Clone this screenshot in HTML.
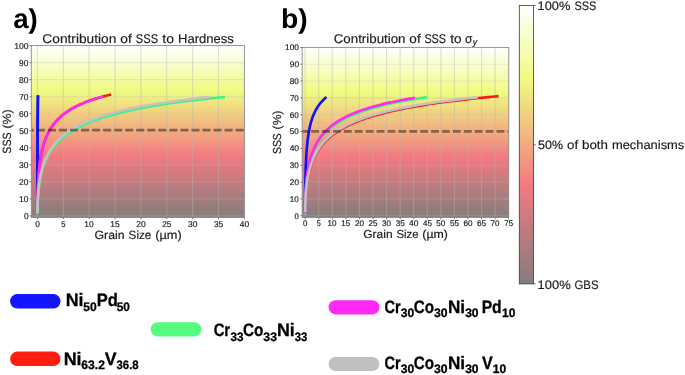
<!DOCTYPE html>
<html><head><meta charset="utf-8"><title>SSS contribution</title>
<style>html,body{margin:0;padding:0;background:#fff;}body{width:685px;height:375px;overflow:hidden;font-family:"Liberation Sans",sans-serif;}svg{display:block;font-family:"Liberation Sans",sans-serif;will-change:opacity;text-rendering:geometricPrecision;}text{fill:#1c1c1c;stroke:#1c1c1c;stroke-width:0.18px;}.pl text{fill:#000;stroke:none;}.lg text{fill:#000;stroke:#000;stroke-width:0.3px;stroke-linejoin:round;}</style>
</head><body>
<svg width="685" height="375" viewBox="0 0 685 375">
<defs>
<linearGradient id="cm" x1="0" y1="1" x2="0" y2="0">
<stop offset="0" stop-color="#847d7d"/>
<stop offset="0.36" stop-color="#f37a81"/>
<stop offset="0.735" stop-color="#effb80"/>
<stop offset="1" stop-color="#ffffff"/>
</linearGradient>
</defs>
<g>
<rect x="31.30" y="45.60" width="213.10" height="171.85" fill="url(#cm)"/>
<path d="M37.45 45.60V217.45M63.31 45.60V217.45M89.16 45.60V217.45M115.02 45.60V217.45M140.88 45.60V217.45M166.73 45.60V217.45M192.59 45.60V217.45M218.44 45.60V217.45" stroke="#b4b4b4" stroke-opacity="0.42" stroke-width="1.1" fill="none"/>
<path d="M31.30 215.90H244.40M31.30 198.87H244.40M31.30 181.84H244.40M31.30 164.81H244.40M31.30 147.78H244.40M31.30 130.75H244.40M31.30 113.72H244.40M31.30 96.69H244.40M31.30 79.66H244.40M31.30 62.63H244.40" stroke="#b8b8b8" stroke-opacity="0.30" stroke-width="1.1" fill="none"/>
<clipPath id="clip1"><rect x="31.30" y="45.60" width="213.10" height="171.85"/></clipPath>
<g clip-path="url(#clip1)" fill="none" stroke-linecap="square" stroke-linejoin="round">
<path d="M37.45 210.79L37.45 210.78L37.45 210.73L37.45 210.66L37.45 210.56L37.45 210.43L37.45 210.27L37.45 210.09L37.45 209.87L37.45 209.63L37.45 209.36L37.45 209.06L37.45 208.74L37.45 208.39L37.45 208.01L37.45 207.61L37.45 207.18L37.45 206.72L37.45 206.24L37.45 205.74L37.45 205.21L37.45 204.66L37.45 204.09L37.45 203.49L37.45 202.88L37.45 202.24L37.45 201.58L37.45 200.90L37.45 200.20L37.45 199.48L37.45 198.75L37.45 198.00L37.45 197.23L37.45 196.44L37.45 195.64L37.45 194.82L37.45 193.99L37.45 193.14L37.45 192.29L37.45 191.42L37.45 190.53L37.45 189.64L37.45 188.73L37.45 187.82L37.45 186.89L37.45 185.96L37.45 185.02L37.45 184.07L37.46 183.11L37.46 182.15L37.46 181.18L37.46 180.20L37.46 179.23L37.46 178.24L37.46 177.25L37.46 176.26L37.46 175.27L37.46 174.27L37.46 173.27L37.46 172.27L37.46 171.27L37.46 170.27L37.46 169.26L37.46 168.26L37.47 167.26L37.47 166.26L37.47 165.26L37.47 164.26L37.47 163.26L37.47 162.27L37.47 161.27L37.47 160.28L37.47 159.30L37.47 158.32L37.48 157.34L37.48 156.36L37.48 155.39L37.48 154.42L37.48 153.46L37.48 152.50L37.48 151.55L37.49 150.60L37.49 149.66L37.49 148.73L37.49 147.80L37.49 146.87L37.50 145.95L37.50 145.04L37.50 144.13L37.50 143.23L37.50 142.34L37.51 141.45L37.51 140.57L37.51 139.69L37.51 138.83L37.52 137.97L37.52 137.11L37.52 136.27L37.53 135.43L37.53 134.59L37.53 133.77L37.53 132.95L37.54 132.14L37.54 131.33L37.55 130.54L37.55 129.75L37.55 128.96L37.56 128.19L37.56 127.42L37.56 126.66L37.57 125.90L37.57 125.16L37.58 124.42L37.58 123.69L37.59 122.96L37.59 122.24L37.60 121.53L37.60 120.83L37.61 120.13L37.61 119.44L37.62 118.76L37.62 118.08L37.63 117.41L37.63 116.75L37.64 116.10L37.64 115.45L37.65 114.81L37.66 114.17L37.66 113.54L37.67 112.92L37.68 112.31L37.68 111.70L37.69 111.09L37.70 110.50L37.71 109.91L37.71 109.33L37.72 108.75L37.73 108.18L37.74 107.62L37.75 107.06L37.75 106.50L37.76 105.96L37.77 105.42L37.78 104.88L37.79 104.35L37.80 103.83L37.81 103.31L37.82 102.80L37.83 102.30L37.84 101.80L37.85 101.30L37.86 100.81L37.87 100.33L37.88 99.85L37.89 99.38L37.90 98.91L37.92 98.44L37.93 97.99L37.94 97.53L37.95 97.08L37.96 96.64" stroke="#1212f8" stroke-width="3.00"/>
<path d="M37.47 209.94L37.47 209.92L37.47 209.88L37.47 209.80L37.47 209.70L37.47 209.56L37.47 209.40L37.47 209.21L37.47 208.98L37.47 208.73L37.48 208.45L37.48 208.14L37.48 207.80L37.48 207.44L37.49 207.05L37.49 206.63L37.49 206.18L37.50 205.71L37.50 205.21L37.51 204.69L37.52 204.14L37.52 203.57L37.53 202.98L37.54 202.36L37.55 201.72L37.56 201.06L37.57 200.37L37.58 199.67L37.60 198.95L37.61 198.21L37.63 197.45L37.64 196.67L37.66 195.87L37.68 195.06L37.70 194.23L37.73 193.39L37.75 192.53L37.78 191.66L37.81 190.77L37.84 189.88L37.87 188.97L37.91 188.05L37.94 187.12L37.98 186.18L38.03 185.23L38.07 184.27L38.12 183.30L38.17 182.33L38.22 181.35L38.28 180.36L38.34 179.37L38.40 178.37L38.47 177.37L38.54 176.36L38.62 175.35L38.70 174.34L38.78 173.32L38.86 172.30L38.96 171.28L39.05 170.27L39.15 169.24L39.26 168.22L39.37 167.20L39.48 166.18L39.60 165.17L39.73 164.15L39.86 163.13L40.00 162.12L40.14 161.11L40.29 160.10L40.44 159.10L40.60 158.09L40.77 157.10L40.95 156.10L41.13 155.11L41.32 154.13L41.52 153.15L41.72 152.17L41.93 151.20L42.16 150.24L42.38 149.28L42.62 148.32L42.87 147.37L43.12 146.43L43.38 145.50L43.66 144.57L43.94 143.64L44.23 142.73L44.53 141.82L44.84 140.92L45.17 140.02L45.50 139.13L45.84 138.25L46.20 137.37L46.56 136.50L46.94 135.64L47.33 134.79L47.73 133.94L48.15 133.11L48.57 132.27L49.01 131.45L49.46 130.63L49.93 129.83L50.41 129.02L50.90 128.23L51.41 127.44L51.93 126.67L52.46 125.89L53.01 125.13L53.58 124.37L54.16 123.63L54.76 122.88L55.37 122.15L56.00 121.42L56.64 120.70L57.31 119.99L57.99 119.29L58.68 118.59L59.40 117.90L60.13 117.22L60.89 116.54L61.66 115.87L62.44 115.21L63.25 114.56L64.08 113.91L64.93 113.27L65.80 112.64L66.69 112.01L67.60 111.39L68.53 110.78L69.48 110.17L70.46 109.57L71.45 108.98L72.47 108.39L73.52 107.81L74.58 107.24L75.67 106.67L76.78 106.11L77.92 105.55L79.08 105.01L80.27 104.46L81.48 103.93L82.72 103.40L83.99 102.87L85.28 102.35L86.60 101.84L87.94 101.33L89.31 100.83L90.72 100.33L92.14 99.84L93.60 99.36L95.09 98.88L96.61 98.40L98.15 97.93L99.73 97.47L101.34 97.01L102.97 96.56L104.64 96.11L106.35 95.67L108.08 95.23L109.85 94.80" stroke="#fb1a12" stroke-width="2.65"/>
<path d="M37.47 209.94L37.47 209.93L37.47 209.88L37.47 209.81L37.47 209.71L37.47 209.59L37.47 209.43L37.47 209.25L37.47 209.04L37.47 208.80L37.47 208.53L37.48 208.24L37.48 207.92L37.48 207.58L37.48 207.21L37.49 206.81L37.49 206.39L37.50 205.94L37.50 205.47L37.51 204.97L37.51 204.46L37.52 203.91L37.53 203.35L37.53 202.76L37.54 202.16L37.55 201.53L37.56 200.88L37.57 200.21L37.59 199.52L37.60 198.82L37.61 198.09L37.63 197.35L37.65 196.59L37.66 195.82L37.68 195.03L37.70 194.22L37.73 193.41L37.75 192.57L37.78 191.73L37.80 190.87L37.83 190.00L37.87 189.12L37.90 188.22L37.94 187.32L37.97 186.41L38.01 185.49L38.06 184.56L38.10 183.62L38.15 182.68L38.20 181.73L38.26 180.77L38.31 179.81L38.37 178.84L38.44 177.87L38.50 176.89L38.57 175.91L38.65 174.93L38.73 173.95L38.81 172.96L38.89 171.97L38.98 170.98L39.08 169.99L39.18 169.00L39.28 168.01L39.39 167.01L39.50 166.02L39.62 165.03L39.74 164.05L39.87 163.06L40.00 162.08L40.14 161.09L40.29 160.11L40.44 159.14L40.59 158.16L40.76 157.19L40.93 156.23L41.10 155.27L41.29 154.31L41.48 153.35L41.67 152.41L41.88 151.46L42.09 150.52L42.31 149.59L42.54 148.66L42.77 147.74L43.02 146.82L43.27 145.91L43.53 145.00L43.80 144.10L44.08 143.21L44.36 142.32L44.66 141.44L44.97 140.56L45.29 139.70L45.61 138.83L45.95 137.98L46.30 137.13L46.66 136.29L47.03 135.45L47.41 134.63L47.80 133.81L48.20 132.99L48.62 132.19L49.05 131.39L49.49 130.59L49.94 129.81L50.40 129.03L50.88 128.26L51.37 127.49L51.88 126.74L52.40 125.99L52.93 125.24L53.48 124.51L54.04 123.78L54.62 123.06L55.21 122.34L55.82 121.63L56.44 120.93L57.08 120.24L57.73 119.55L58.40 118.87L59.09 118.20L59.79 117.53L60.52 116.87L61.26 116.22L62.01 115.57L62.79 114.93L63.58 114.30L64.39 113.67L65.22 113.05L66.07 112.44L66.94 111.83L67.83 111.23L68.74 110.64L69.67 110.05L70.63 109.47L71.60 108.89L72.59 108.33L73.61 107.76L74.64 107.20L75.70 106.65L76.79 106.11L77.89 105.57L79.02 105.04L80.17 104.51L81.35 103.99L82.55 103.47L83.77 102.96L85.02 102.45L86.30 101.95L87.60 101.46L88.92 100.97L90.28 100.49L91.66 100.01L93.06 99.54L94.50 99.07L95.96 98.60L97.45 98.15L98.97 97.69L100.51 97.25L102.09 96.80" stroke="#ff28f2" stroke-width="2.65"/>
<path d="M37.47 211.98L37.47 211.97L37.47 211.93L37.47 211.85L37.47 211.75L37.47 211.62L37.48 211.46L37.48 211.28L37.48 211.06L37.48 210.82L37.49 210.55L37.49 210.25L37.50 209.92L37.50 209.57L37.51 209.19L37.52 208.78L37.53 208.35L37.54 207.89L37.55 207.41L37.56 206.91L37.57 206.38L37.59 205.82L37.61 205.25L37.62 204.65L37.65 204.03L37.67 203.39L37.70 202.72L37.72 202.04L37.76 201.34L37.79 200.62L37.83 199.88L37.87 199.12L37.91 198.35L37.96 197.56L38.01 196.75L38.07 195.93L38.13 195.09L38.19 194.24L38.26 193.38L38.34 192.51L38.42 191.62L38.50 190.72L38.59 189.81L38.69 188.89L38.80 187.96L38.91 187.02L39.03 186.07L39.15 185.12L39.29 184.15L39.43 183.19L39.58 182.21L39.73 181.23L39.90 180.25L40.08 179.26L40.26 178.26L40.46 177.26L40.67 176.26L40.88 175.26L41.11 174.26L41.35 173.25L41.60 172.24L41.87 171.23L42.15 170.22L42.44 169.21L42.74 168.21L43.06 167.20L43.39 166.19L43.74 165.19L44.10 164.18L44.48 163.18L44.87 162.18L45.28 161.19L45.71 160.20L46.16 159.21L46.62 158.22L47.10 157.24L47.60 156.26L48.12 155.29L48.66 154.32L49.23 153.36L49.81 152.40L50.41 151.45L51.04 150.50L51.69 149.55L52.36 148.62L53.06 147.69L53.78 146.76L54.52 145.84L55.30 144.93L56.09 144.02L56.92 143.12L57.77 142.23L58.65 141.34L59.56 140.46L60.50 139.59L61.46 138.72L62.46 137.86L63.49 137.01L64.55 136.16L65.64 135.32L66.77 134.49L67.93 133.67L69.12 132.85L70.35 132.04L71.61 131.24L72.92 130.44L74.25 129.65L75.63 128.87L77.04 128.10L78.50 127.33L79.99 126.57L81.53 125.82L83.10 125.08L84.72 124.34L86.38 123.61L88.09 122.88L89.84 122.17L91.63 121.46L93.47 120.76L95.36 120.06L97.29 119.37L99.28 118.69L101.31 118.02L103.39 117.35L105.52 116.69L107.71 116.04L109.95 115.39L112.24 114.75L114.58 114.12L116.98 113.49L119.44 112.87L121.95 112.26L124.52 111.65L127.15 111.05L129.83 110.46L132.58 109.87L135.39 109.29L138.26 108.72L141.20 108.15L144.20 107.58L147.26 107.03L150.39 106.48L153.58 105.93L156.85 105.39L160.18 104.86L163.58 104.33L167.05 103.81L170.59 103.30L174.21 102.79L177.90 102.28L181.66 101.78L185.50 101.29L189.42 100.80L193.41 100.32L197.48 99.84L201.63 99.37L205.86 98.90L210.18 98.44L214.57 97.98L219.05 97.53L223.62 97.09" stroke="#3af57c" stroke-width="2.65"/>
<path d="M37.47 212.15L37.47 212.14L37.47 212.10L37.47 212.02L37.47 211.92L37.47 211.79L37.47 211.63L37.47 211.45L37.48 211.23L37.48 210.99L37.48 210.72L37.49 210.42L37.49 210.09L37.50 209.74L37.50 209.36L37.51 208.96L37.52 208.53L37.53 208.07L37.54 207.59L37.55 207.09L37.56 206.56L37.57 206.00L37.59 205.43L37.61 204.83L37.63 204.21L37.65 203.57L37.67 202.91L37.70 202.23L37.72 201.53L37.76 200.81L37.79 200.07L37.83 199.31L37.87 198.54L37.91 197.75L37.96 196.95L38.01 196.13L38.06 195.29L38.12 194.44L38.19 193.58L38.25 192.70L38.33 191.82L38.41 190.92L38.49 190.01L38.58 189.09L38.67 188.16L38.78 187.22L38.88 186.28L39.00 185.32L39.12 184.36L39.25 183.39L39.39 182.42L39.53 181.44L39.68 180.46L39.84 179.47L40.01 178.47L40.19 177.48L40.38 176.48L40.58 175.47L40.79 174.47L41.01 173.46L41.24 172.46L41.48 171.45L41.74 170.44L42.00 169.43L42.28 168.42L42.57 167.42L42.87 166.41L43.19 165.40L43.52 164.40L43.87 163.40L44.23 162.40L44.61 161.41L45.00 160.42L45.41 159.43L45.83 158.44L46.27 157.46L46.73 156.48L47.21 155.51L47.70 154.54L48.22 153.58L48.75 152.62L49.30 151.66L49.88 150.72L50.47 149.77L51.09 148.84L51.73 147.90L52.39 146.98L53.07 146.06L53.78 145.15L54.51 144.24L55.26 143.34L56.05 142.44L56.85 141.56L57.68 140.67L58.54 139.80L59.43 138.93L60.34 138.07L61.29 137.22L62.26 136.37L63.26 135.53L64.29 134.70L65.35 133.88L66.45 133.06L67.57 132.25L68.73 131.44L69.93 130.65L71.15 129.86L72.41 129.08L73.71 128.30L75.04 127.53L76.41 126.77L77.82 126.02L79.26 125.28L80.75 124.54L82.27 123.81L83.83 123.08L85.43 122.36L87.08 121.65L88.77 120.95L90.50 120.26L92.27 119.57L94.09 118.89L95.95 118.21L97.86 117.54L99.82 116.88L101.82 116.23L103.87 115.58L105.97 114.94L108.12 114.31L110.32 113.68L112.57 113.06L114.88 112.44L117.23 111.84L119.64 111.23L122.11 110.64L124.63 110.05L127.20 109.47L129.83 108.89L132.53 108.32L135.27 107.76L138.08 107.20L140.95 106.65L143.88 106.10L146.87 105.56L149.93 105.03L153.05 104.50L156.23 103.98L159.48 103.46L162.80 102.95L166.18 102.45L169.63 101.95L173.15 101.45L176.74 100.96L180.40 100.48L184.14 100.00L187.94 99.53L191.82 99.06L195.78 98.60L199.81 98.14L203.92 97.69L208.10 97.24" stroke="#c2c2c2" stroke-width="2.65"/>
<path d="M31.30 130.10H244.40" stroke="#000" stroke-opacity="0.43" stroke-width="2.7" stroke-dasharray="8.1 2.94" stroke-dashoffset="5.49" stroke-linecap="butt"/>
</g>
<rect x="31.30" y="45.60" width="213.10" height="171.85" fill="none" stroke="#8a8a8a" stroke-width="0.9"/>
<path d="M37.45 217.45v1.8M63.31 217.45v1.8M89.16 217.45v1.8M115.02 217.45v1.8M140.88 217.45v1.8M166.73 217.45v1.8M192.59 217.45v1.8M218.44 217.45v1.8M244.30 217.45v1.8M31.30 215.90h-1.8M31.30 198.87h-1.8M31.30 181.84h-1.8M31.30 164.81h-1.8M31.30 147.78h-1.8M31.30 130.75h-1.8M31.30 113.72h-1.8M31.30 96.69h-1.8M31.30 79.66h-1.8M31.30 62.63h-1.8M31.30 45.60h-1.8" stroke="#444" stroke-width="0.7" fill="none"/>
<text x="35.19" y="226.75" font-size="8.40" textLength="4.64" lengthAdjust="spacingAndGlyphs">0</text>
<text x="61.19" y="226.75" font-size="8.40" textLength="4.22" lengthAdjust="spacingAndGlyphs">5</text>
<text x="84.36" y="226.75" font-size="8.40" textLength="9.32" lengthAdjust="spacingAndGlyphs">10</text>
<text x="110.30" y="226.75" font-size="8.40" textLength="9.30" lengthAdjust="spacingAndGlyphs">15</text>
<text x="136.22" y="226.75" font-size="8.40" textLength="9.44" lengthAdjust="spacingAndGlyphs">20</text>
<text x="162.15" y="226.75" font-size="8.40" textLength="9.16" lengthAdjust="spacingAndGlyphs">25</text>
<text x="187.93" y="226.75" font-size="8.40" textLength="9.44" lengthAdjust="spacingAndGlyphs">30</text>
<text x="213.88" y="226.75" font-size="8.40" textLength="9.14" lengthAdjust="spacingAndGlyphs">35</text>
<text x="239.79" y="226.75" font-size="8.40" textLength="9.38" lengthAdjust="spacingAndGlyphs">40</text>
<text x="23.93" y="219.10" font-size="8.40" textLength="4.64" lengthAdjust="spacingAndGlyphs">0</text>
<text x="19.10" y="202.07" font-size="8.40" textLength="9.32" lengthAdjust="spacingAndGlyphs">10</text>
<text x="19.11" y="185.04" font-size="8.40" textLength="9.44" lengthAdjust="spacingAndGlyphs">20</text>
<text x="19.11" y="168.01" font-size="8.40" textLength="9.44" lengthAdjust="spacingAndGlyphs">30</text>
<text x="19.16" y="150.98" font-size="8.40" textLength="9.38" lengthAdjust="spacingAndGlyphs">40</text>
<text x="19.13" y="133.95" font-size="8.40" textLength="9.28" lengthAdjust="spacingAndGlyphs">50</text>
<text x="19.06" y="116.92" font-size="8.40" textLength="9.36" lengthAdjust="spacingAndGlyphs">60</text>
<text x="19.14" y="99.89" font-size="8.40" textLength="9.15" lengthAdjust="spacingAndGlyphs">70</text>
<text x="19.06" y="82.86" font-size="8.40" textLength="9.50" lengthAdjust="spacingAndGlyphs">80</text>
<text x="19.00" y="65.83" font-size="8.40" textLength="9.30" lengthAdjust="spacingAndGlyphs">90</text>
<text x="14.19" y="48.80" font-size="8.40" textLength="14.35" lengthAdjust="spacingAndGlyphs">100</text>
<text x="42.38" y="43.10" font-size="12.70" textLength="73.96" lengthAdjust="spacingAndGlyphs">Contribution</text><text x="120.36" y="43.10" font-size="12.70" textLength="11.55" lengthAdjust="spacingAndGlyphs">of</text><text x="135.82" y="43.10" font-size="12.70" textLength="22.28" lengthAdjust="spacingAndGlyphs">SSS</text><text x="162.39" y="43.10" font-size="12.70" textLength="11.63" lengthAdjust="spacingAndGlyphs">to</text><text x="178.04" y="43.10" font-size="12.70" textLength="55.66" lengthAdjust="spacingAndGlyphs">Hardness</text>
<text x="94.48" y="238.80" font-size="11.90" textLength="30.11" lengthAdjust="spacingAndGlyphs">Grain</text><text x="128.58" y="238.80" font-size="11.90" textLength="22.83" lengthAdjust="spacingAndGlyphs">Size</text><text x="155.19" y="238.80" font-size="11.90" textLength="26.58" lengthAdjust="spacingAndGlyphs">(µm)</text>
<text transform="translate(10.90,153.20) rotate(-90)" x="-0.52" y="0" font-size="11.90" textLength="21.28" lengthAdjust="spacingAndGlyphs">SSS</text><text transform="translate(10.90,153.20) rotate(-90)" x="24.65" y="0" font-size="11.90" textLength="19.28" lengthAdjust="spacingAndGlyphs">(%)</text>
</g>
<g>
<rect x="302.15" y="47.40" width="206.60" height="170.15" fill="url(#cm)"/>
<path d="M305.15 47.40V217.55M318.72 47.40V217.55M332.29 47.40V217.55M345.86 47.40V217.55M359.43 47.40V217.55M373.00 47.40V217.55M386.57 47.40V217.55M400.14 47.40V217.55M413.71 47.40V217.55M427.28 47.40V217.55M440.85 47.40V217.55M454.42 47.40V217.55M467.99 47.40V217.55M481.56 47.40V217.55M495.13 47.40V217.55" stroke="#b4b4b4" stroke-opacity="0.42" stroke-width="1.1" fill="none"/>
<path d="M302.15 215.75H508.75M302.15 198.91H508.75M302.15 182.08H508.75M302.15 165.25H508.75M302.15 148.41H508.75M302.15 131.57H508.75M302.15 114.74H508.75M302.15 97.91H508.75M302.15 81.07H508.75M302.15 64.24H508.75" stroke="#b8b8b8" stroke-opacity="0.30" stroke-width="1.1" fill="none"/>
<clipPath id="clip2"><rect x="302.15" y="47.40" width="206.60" height="170.15"/></clipPath>
<g clip-path="url(#clip2)" fill="none" stroke-linecap="square" stroke-linejoin="round">
<path d="M305.19 209.86L305.19 209.84L305.19 209.80L305.19 209.73L305.20 209.62L305.20 209.49L305.20 209.33L305.20 209.14L305.21 208.92L305.21 208.67L305.22 208.40L305.22 208.09L305.23 207.76L305.24 207.41L305.25 207.02L305.26 206.61L305.27 206.17L305.28 205.71L305.29 205.22L305.31 204.71L305.33 204.17L305.34 203.61L305.37 203.03L305.39 202.42L305.41 201.79L305.44 201.14L305.47 200.47L305.50 199.78L305.54 199.07L305.58 198.34L305.62 197.60L305.67 196.83L305.72 196.05L305.77 195.25L305.83 194.44L305.89 193.61L305.95 192.77L306.03 191.91L306.10 191.04L306.18 190.16L306.27 189.27L306.37 188.36L306.47 187.45L306.57 186.53L306.68 185.59L306.80 184.65L306.93 183.70L307.07 182.74L307.21 181.78L307.36 180.81L307.52 179.83L307.69 178.85L307.87 177.86L308.05 176.87L308.25 175.88L308.46 174.88L308.68 173.88L308.91 172.88L309.15 171.88L309.40 170.87L309.67 169.87L309.95 168.86L310.24 167.86L310.55 166.85L310.87 165.85L311.20 164.85L311.55 163.85L311.91 162.85L312.29 161.85L312.69 160.86L313.10 159.87L313.53 158.88L313.98 157.90L314.44 156.92L314.93 155.95L315.43 154.97L315.95 154.01L316.50 153.04L317.06 152.09L317.65 151.14L318.25 150.19L318.88 149.25L319.53 148.31L320.21 147.38L320.91 146.46L321.63 145.54L322.38 144.63L323.16 143.73L323.96 142.83L324.79 141.94L325.64 141.05L326.52 140.17L327.44 139.30L328.38 138.44L329.35 137.58L330.35 136.73L331.38 135.89L332.45 135.05L333.55 134.22L334.68 133.40L335.84 132.59L337.04 131.78L338.28 130.98L339.55 130.19L340.86 129.41L342.20 128.63L343.58 127.86L345.01 127.10L346.47 126.34L347.97 125.59L349.51 124.85L351.10 124.12L352.72 123.39L354.39 122.68L356.11 121.96L357.87 121.26L359.67 120.56L361.52 119.87L363.42 119.19L365.37 118.52L367.36 117.85L369.40 117.19L371.50 116.53L373.65 115.88L375.84 115.24L378.10 114.61L380.40 113.98L382.76 113.36L385.18 112.75L387.65 112.14L390.18 111.54L392.76 110.95L395.41 110.36L398.11 109.78L400.88 109.20L403.71 108.63L406.60 108.07L409.56 107.52L412.58 106.97L415.66 106.42L418.81 105.89L422.03 105.35L425.32 104.83L428.67 104.31L432.10 103.79L435.60 103.28L439.17 102.78L442.81 102.28L446.53 101.79L450.32 101.31L454.19 100.83L458.14 100.35L462.16 99.88L466.26 99.42L470.45 98.96L474.71 98.50L479.06 98.05L483.49 97.61L488.01 97.17L492.61 96.73L497.30 96.30" stroke="#fb1a12" stroke-width="2.65"/>
<path d="M305.15 209.86L305.15 209.84L305.16 209.80L305.16 209.73L305.16 209.63L305.16 209.51L305.16 209.35L305.16 209.17L305.16 208.96L305.16 208.73L305.16 208.46L305.16 208.17L305.16 207.86L305.16 207.52L305.16 207.15L305.16 206.75L305.16 206.34L305.16 205.89L305.17 205.43L305.17 204.93L305.17 204.42L305.17 203.88L305.17 203.32L305.18 202.74L305.18 202.14L305.18 201.52L305.19 200.88L305.19 200.21L305.19 199.53L305.20 198.83L305.20 198.12L305.21 197.38L305.21 196.63L305.22 195.86L305.22 195.08L305.23 194.28L305.24 193.47L305.24 192.65L305.25 191.81L305.26 190.96L305.27 190.09L305.28 189.22L305.29 188.34L305.30 187.44L305.31 186.54L305.33 185.63L305.34 184.71L305.36 183.78L305.37 182.84L305.39 181.90L305.40 180.95L305.42 180.00L305.44 179.04L305.46 178.08L305.48 177.11L305.50 176.14L305.53 175.17L305.55 174.20L305.58 173.22L305.60 172.24L305.63 171.26L305.66 170.28L305.69 169.30L305.73 168.31L305.76 167.33L305.80 166.35L305.83 165.37L305.87 164.39L305.91 163.42L305.95 162.44L306.00 161.47L306.04 160.50L306.09 159.54L306.14 158.57L306.19 157.61L306.24 156.66L306.30 155.71L306.36 154.76L306.42 153.81L306.48 152.87L306.54 151.94L306.61 151.01L306.68 150.09L306.75 149.17L306.83 148.25L306.90 147.35L306.98 146.45L307.06 145.55L307.15 144.66L307.24 143.77L307.33 142.90L307.42 142.03L307.52 141.16L307.62 140.30L307.72 139.45L307.83 138.60L307.94 137.77L308.05 136.93L308.17 136.11L308.28 135.29L308.41 134.48L308.54 133.67L308.67 132.88L308.80 132.09L308.94 131.30L309.08 130.52L309.23 129.76L309.38 128.99L309.53 128.24L309.69 127.49L309.86 126.75L310.02 126.01L310.20 125.28L310.37 124.56L310.56 123.85L310.74 123.14L310.93 122.44L311.13 121.75L311.33 121.07L311.54 120.39L311.75 119.71L311.96 119.05L312.19 118.39L312.41 117.74L312.65 117.09L312.88 116.46L313.13 115.82L313.38 115.20L313.63 114.58L313.90 113.97L314.16 113.36L314.44 112.76L314.72 112.17L315.00 111.58L315.30 111.00L315.60 110.43L315.90 109.86L316.22 109.29L316.54 108.74L316.86 108.19L317.20 107.64L317.54 107.11L317.88 106.57L318.24 106.05L318.60 105.52L318.97 105.01L319.35 104.50L319.74 103.99L320.13 103.49L320.53 103.00L320.94 102.51L321.36 102.03L321.79 101.55L322.22 101.08L322.66 100.61L323.11 100.15L323.57 99.69L324.04 99.24L324.52 98.79L325.01 98.35L325.50 97.91" stroke="#1212f8" stroke-width="2.65"/>
<path d="M305.15 213.31L305.15 213.29L305.15 213.25L305.16 213.17L305.16 213.07L305.16 212.93L305.16 212.77L305.16 212.58L305.16 212.35L305.16 212.10L305.16 211.82L305.16 211.51L305.17 211.17L305.17 210.81L305.17 210.42L305.18 210.00L305.18 209.55L305.19 209.08L305.19 208.58L305.20 208.06L305.21 207.51L305.22 206.94L305.23 206.34L305.24 205.72L305.25 205.08L305.26 204.42L305.28 203.74L305.29 203.03L305.31 202.31L305.33 201.57L305.35 200.81L305.38 200.03L305.40 199.23L305.43 198.42L305.46 197.59L305.50 196.74L305.54 195.88L305.57 195.01L305.62 194.12L305.66 193.22L305.71 192.31L305.77 191.39L305.82 190.46L305.88 189.51L305.95 188.56L306.02 187.60L306.09 186.63L306.17 185.65L306.25 184.67L306.34 183.68L306.43 182.68L306.53 181.68L306.64 180.67L306.75 179.66L306.87 178.65L306.99 177.63L307.12 176.61L307.26 175.59L307.41 174.57L307.56 173.54L307.72 172.52L307.89 171.49L308.06 170.47L308.25 169.44L308.44 168.42L308.64 167.40L308.85 166.38L309.07 165.36L309.31 164.34L309.55 163.33L309.80 162.32L310.06 161.31L310.34 160.31L310.62 159.31L310.92 158.31L311.23 157.32L311.55 156.33L311.88 155.35L312.23 154.37L312.59 153.40L312.96 152.43L313.35 151.47L313.76 150.52L314.17 149.57L314.61 148.63L315.05 147.69L315.52 146.76L316.00 145.84L316.49 144.92L317.01 144.01L317.54 143.11L318.09 142.21L318.66 141.32L319.24 140.44L319.85 139.56L320.47 138.70L321.11 137.83L321.78 136.98L322.46 136.14L323.17 135.30L323.90 134.47L324.64 133.64L325.42 132.83L326.21 132.02L327.03 131.22L327.87 130.42L328.73 129.63L329.62 128.86L330.54 128.08L331.48 127.32L332.45 126.56L333.44 125.82L334.46 125.07L335.51 124.34L336.58 123.61L337.68 122.89L338.82 122.18L339.98 121.48L341.17 120.78L342.39 120.09L343.65 119.41L344.93 118.73L346.25 118.06L347.60 117.40L348.98 116.75L350.40 116.10L351.85 115.46L353.33 114.83L354.85 114.20L356.41 113.58L358.00 112.97L359.63 112.36L361.30 111.76L363.00 111.17L364.75 110.58L366.53 110.00L368.35 109.42L370.22 108.86L372.12 108.29L374.07 107.74L376.05 107.19L378.09 106.65L380.16 106.11L382.28 105.58L384.44 105.05L386.65 104.53L388.90 104.02L391.21 103.51L393.55 103.01L395.95 102.51L398.39 102.02L400.89 101.53L403.43 101.05L406.03 100.58L408.67 100.11L411.37 99.64L414.12 99.19L416.92 98.73L419.77 98.28L422.69 97.84L425.65 97.40" stroke="#3af57c" stroke-width="2.65"/>
<path d="M305.16 212.13L305.16 212.12L305.16 212.07L305.16 212.00L305.16 211.90L305.16 211.77L305.16 211.61L305.16 211.42L305.17 211.21L305.17 210.96L305.17 210.69L305.17 210.39L305.17 210.07L305.18 209.72L305.18 209.34L305.19 208.93L305.19 208.50L305.20 208.04L305.20 207.56L305.21 207.06L305.22 206.53L305.23 205.97L305.24 205.40L305.25 204.80L305.26 204.18L305.27 203.54L305.29 202.88L305.30 202.20L305.32 201.49L305.34 200.77L305.36 200.04L305.39 199.28L305.41 198.51L305.44 197.72L305.47 196.91L305.50 196.09L305.54 195.26L305.57 194.41L305.61 193.55L305.66 192.68L305.70 191.79L305.75 190.89L305.81 189.99L305.86 189.07L305.92 188.14L305.99 187.21L306.06 186.26L306.13 185.31L306.21 184.35L306.29 183.39L306.37 182.42L306.47 181.44L306.56 180.46L306.67 179.47L306.77 178.48L306.89 177.49L307.01 176.49L307.13 175.49L307.27 174.49L307.41 173.49L307.55 172.49L307.71 171.48L307.87 170.48L308.04 169.48L308.21 168.47L308.40 167.47L308.59 166.47L308.79 165.47L309.00 164.47L309.22 163.48L309.45 162.49L309.69 161.50L309.94 160.51L310.20 159.53L310.47 158.55L310.75 157.57L311.04 156.60L311.34 155.64L311.66 154.67L311.99 153.72L312.33 152.76L312.68 151.82L313.04 150.88L313.42 149.94L313.81 149.01L314.22 148.09L314.64 147.17L315.07 146.26L315.52 145.35L315.99 144.45L316.47 143.56L316.96 142.67L317.48 141.79L318.00 140.92L318.55 140.06L319.11 139.20L319.70 138.34L320.30 137.50L320.91 136.66L321.55 135.83L322.21 135.01L322.88 134.19L323.58 133.38L324.30 132.58L325.03 131.78L325.79 130.99L326.57 130.21L327.37 129.44L328.20 128.67L329.05 127.92L329.92 127.16L330.81 126.42L331.73 125.68L332.67 124.95L333.64 124.23L334.64 123.51L335.66 122.81L336.70 122.10L337.78 121.41L338.88 120.72L340.01 120.04L341.16 119.37L342.35 118.70L343.56 118.04L344.81 117.39L346.08 116.74L347.39 116.10L348.72 115.47L350.09 114.85L351.49 114.23L352.92 113.62L354.39 113.01L355.89 112.41L357.42 111.82L358.99 111.23L360.59 110.65L362.23 110.08L363.91 109.51L365.62 108.95L367.37 108.39L369.15 107.84L370.98 107.30L372.84 106.76L374.75 106.23L376.69 105.70L378.68 105.18L380.70 104.67L382.77 104.16L384.88 103.65L387.03 103.16L389.23 102.66L391.47 102.18L393.75 101.70L396.08 101.22L398.46 100.75L400.88 100.28L403.35 99.82L405.87 99.37L408.43 98.91L411.05 98.47L413.71 98.03" stroke="#ff28f2" stroke-width="2.65"/>
<path d="M305.18 210.95L305.18 210.94L305.18 210.89L305.18 210.82L305.18 210.72L305.18 210.59L305.18 210.43L305.19 210.24L305.19 210.03L305.19 209.79L305.20 209.51L305.20 209.22L305.21 208.89L305.21 208.54L305.22 208.16L305.23 207.75L305.24 207.32L305.25 206.87L305.26 206.38L305.27 205.88L305.28 205.35L305.30 204.80L305.32 204.22L305.33 203.62L305.36 203.00L305.38 202.36L305.40 201.70L305.43 201.02L305.46 200.32L305.49 199.60L305.53 198.86L305.57 198.11L305.61 197.34L305.66 196.55L305.71 195.75L305.76 194.93L305.82 194.09L305.88 193.25L305.95 192.39L306.02 191.51L306.09 190.63L306.17 189.74L306.26 188.83L306.35 187.91L306.45 186.99L306.56 186.05L306.67 185.11L306.78 184.16L306.91 183.21L307.04 182.24L307.18 181.27L307.33 180.30L307.49 179.32L307.65 178.34L307.83 177.35L308.01 176.36L308.20 175.37L308.40 174.37L308.62 173.37L308.84 172.37L309.08 171.38L309.32 170.38L309.58 169.37L309.85 168.37L310.13 167.38L310.43 166.38L310.73 165.38L311.06 164.38L311.39 163.39L311.74 162.40L312.11 161.41L312.49 160.43L312.89 159.45L313.30 158.47L313.73 157.49L314.18 156.52L314.64 155.56L315.12 154.59L315.62 153.64L316.14 152.68L316.68 151.74L317.24 150.80L317.82 149.86L318.42 148.93L319.04 148.00L319.69 147.09L320.35 146.17L321.04 145.27L321.76 144.37L322.49 143.47L323.25 142.58L324.04 141.70L324.85 140.83L325.69 139.96L326.56 139.10L327.45 138.25L328.37 137.40L329.32 136.56L330.30 135.73L331.31 134.90L332.34 134.08L333.41 133.27L334.52 132.47L335.65 131.67L336.81 130.88L338.01 130.10L339.25 129.33L340.52 128.56L341.82 127.80L343.16 127.04L344.54 126.30L345.95 125.56L347.40 124.83L348.89 124.10L350.42 123.38L351.99 122.67L353.61 121.97L355.26 121.28L356.95 120.59L358.69 119.91L360.47 119.23L362.30 118.56L364.17 117.90L366.09 117.25L368.05 116.60L370.06 115.96L372.12 115.33L374.23 114.70L376.39 114.08L378.60 113.46L380.86 112.86L383.17 112.26L385.54 111.66L387.96 111.07L390.43 110.49L392.96 109.92L395.54 109.35L398.18 108.79L400.88 108.23L403.64 107.68L406.46 107.13L409.34 106.59L412.28 106.06L415.28 105.53L418.34 105.01L421.47 104.50L424.66 103.99L427.92 103.48L431.25 102.99L434.64 102.49L438.10 102.00L441.63 101.52L445.23 101.05L448.90 100.57L452.65 100.11L456.46 99.65L460.35 99.19L464.32 98.74L468.36 98.29L472.48 97.85L476.67 97.41" stroke="#c2c2c2" stroke-width="2.65"/>
<path d="M302.15 131.40H508.75" stroke="#000" stroke-opacity="0.43" stroke-width="2.7" stroke-dasharray="7.9 3.0" stroke-dashoffset="1.85" stroke-linecap="butt"/>
</g>
<rect x="302.15" y="47.40" width="206.60" height="170.15" fill="none" stroke="#8a8a8a" stroke-width="0.9"/>
<path d="M305.15 217.55v1.8M318.72 217.55v1.8M332.29 217.55v1.8M345.86 217.55v1.8M359.43 217.55v1.8M373.00 217.55v1.8M386.57 217.55v1.8M400.14 217.55v1.8M413.71 217.55v1.8M427.28 217.55v1.8M440.85 217.55v1.8M454.42 217.55v1.8M467.99 217.55v1.8M481.56 217.55v1.8M495.13 217.55v1.8M508.70 217.55v1.8M302.15 215.75h-1.8M302.15 198.91h-1.8M302.15 182.08h-1.8M302.15 165.25h-1.8M302.15 148.41h-1.8M302.15 131.57h-1.8M302.15 114.74h-1.8M302.15 97.91h-1.8M302.15 81.07h-1.8M302.15 64.24h-1.8M302.15 47.40h-1.8" stroke="#444" stroke-width="0.7" fill="none"/>
<text x="302.96" y="226.40" font-size="8.20" textLength="4.39" lengthAdjust="spacingAndGlyphs">0</text>
<text x="316.65" y="226.40" font-size="8.20" textLength="4.04" lengthAdjust="spacingAndGlyphs">5</text>
<text x="327.61" y="226.40" font-size="8.20" textLength="8.97" lengthAdjust="spacingAndGlyphs">10</text>
<text x="341.25" y="226.40" font-size="8.20" textLength="8.83" lengthAdjust="spacingAndGlyphs">15</text>
<text x="354.88" y="226.40" font-size="8.20" textLength="9.10" lengthAdjust="spacingAndGlyphs">20</text>
<text x="368.52" y="226.40" font-size="8.20" textLength="8.97" lengthAdjust="spacingAndGlyphs">25</text>
<text x="382.05" y="226.40" font-size="8.20" textLength="8.93" lengthAdjust="spacingAndGlyphs">30</text>
<text x="395.68" y="226.40" font-size="8.20" textLength="9.05" lengthAdjust="spacingAndGlyphs">35</text>
<text x="409.08" y="226.40" font-size="8.20" textLength="9.39" lengthAdjust="spacingAndGlyphs">40</text>
<text x="422.97" y="226.40" font-size="8.20" textLength="8.98" lengthAdjust="spacingAndGlyphs">45</text>
<text x="436.33" y="226.40" font-size="8.20" textLength="8.93" lengthAdjust="spacingAndGlyphs">50</text>
<text x="449.96" y="226.40" font-size="8.20" textLength="9.05" lengthAdjust="spacingAndGlyphs">55</text>
<text x="463.41" y="226.40" font-size="8.20" textLength="9.02" lengthAdjust="spacingAndGlyphs">60</text>
<text x="477.06" y="226.40" font-size="8.20" textLength="9.11" lengthAdjust="spacingAndGlyphs">65</text>
<text x="490.62" y="226.40" font-size="8.20" textLength="8.89" lengthAdjust="spacingAndGlyphs">70</text>
<text x="504.26" y="226.40" font-size="8.20" textLength="8.77" lengthAdjust="spacingAndGlyphs">75</text>
<text x="294.56" y="218.60" font-size="8.20" textLength="4.39" lengthAdjust="spacingAndGlyphs">0</text>
<text x="289.83" y="201.76" font-size="8.20" textLength="8.97" lengthAdjust="spacingAndGlyphs">10</text>
<text x="289.83" y="184.93" font-size="8.20" textLength="9.10" lengthAdjust="spacingAndGlyphs">20</text>
<text x="289.86" y="168.09" font-size="8.20" textLength="8.93" lengthAdjust="spacingAndGlyphs">30</text>
<text x="289.66" y="151.26" font-size="8.20" textLength="9.39" lengthAdjust="spacingAndGlyphs">40</text>
<text x="289.86" y="134.42" font-size="8.20" textLength="8.93" lengthAdjust="spacingAndGlyphs">50</text>
<text x="289.79" y="117.59" font-size="8.20" textLength="9.02" lengthAdjust="spacingAndGlyphs">60</text>
<text x="289.90" y="100.75" font-size="8.20" textLength="8.89" lengthAdjust="spacingAndGlyphs">70</text>
<text x="289.78" y="83.92" font-size="8.20" textLength="9.14" lengthAdjust="spacingAndGlyphs">80</text>
<text x="289.76" y="67.09" font-size="8.20" textLength="9.29" lengthAdjust="spacingAndGlyphs">90</text>
<text x="285.04" y="50.25" font-size="8.20" textLength="14.01" lengthAdjust="spacingAndGlyphs">100</text>
<text x="333.78" y="43.20" font-size="12.70" textLength="71.73" lengthAdjust="spacingAndGlyphs">Contribution</text><text x="409.39" y="43.20" font-size="12.70" textLength="11.28" lengthAdjust="spacingAndGlyphs">of</text><text x="424.38" y="43.20" font-size="12.70" textLength="21.64" lengthAdjust="spacingAndGlyphs">SSS</text><text x="450.16" y="43.20" font-size="12.70" textLength="11.36" lengthAdjust="spacingAndGlyphs">to</text>
<text x="464.94" y="43.20" font-size="12.70" textLength="7.43" lengthAdjust="spacingAndGlyphs">σ</text>
<text x="472.82" y="45.00" font-size="9.20" font-style="italic" textLength="4.37" lengthAdjust="spacingAndGlyphs">y</text>
<text x="363.28" y="237.80" font-size="11.55" textLength="29.29" lengthAdjust="spacingAndGlyphs">Grain</text><text x="396.43" y="237.80" font-size="11.55" textLength="22.18" lengthAdjust="spacingAndGlyphs">Size</text><text x="422.29" y="237.80" font-size="11.55" textLength="25.64" lengthAdjust="spacingAndGlyphs">(µm)</text>
<text transform="translate(281.30,153.40) rotate(-90)" x="-0.52" y="0" font-size="11.60" textLength="20.68" lengthAdjust="spacingAndGlyphs">SSS</text><text transform="translate(281.30,153.40) rotate(-90)" x="24.00" y="0" font-size="11.60" textLength="18.81" lengthAdjust="spacingAndGlyphs">(%)</text>
</g>
<rect x="519.30" y="5.50" width="14.20" height="278.40" fill="url(#cm)" stroke="#3a3a3a" stroke-width="0.8"/>
<path d="M533.50 5.50h2.2M533.50 144.70h2.2M533.50 283.90h2.2" stroke="#333" stroke-width="0.7"/>
<text x="537.60" y="10.05" font-size="12.30" textLength="32.79" lengthAdjust="spacingAndGlyphs">100%</text><text x="574.58" y="10.05" font-size="12.30" textLength="21.72" lengthAdjust="spacingAndGlyphs">SSS</text>
<text x="538.08" y="149.20" font-size="12.30" textLength="24.95" lengthAdjust="spacingAndGlyphs">50%</text><text x="567.09" y="149.20" font-size="12.30" textLength="11.11" lengthAdjust="spacingAndGlyphs">of</text><text x="581.99" y="149.20" font-size="12.30" textLength="25.96" lengthAdjust="spacingAndGlyphs">both</text><text x="611.90" y="149.20" font-size="12.30" textLength="72.43" lengthAdjust="spacingAndGlyphs">mechanisms</text>
<text x="537.60" y="288.60" font-size="12.30" textLength="33.08" lengthAdjust="spacingAndGlyphs">100%</text><text x="574.54" y="288.60" font-size="12.30" textLength="23.93" lengthAdjust="spacingAndGlyphs">GBS</text>
<g class="pl">
<text x="13.23" y="27.60" font-size="27.30" font-weight="bold" textLength="24.64" lengthAdjust="spacingAndGlyphs">a)</text>
<text x="280.92" y="27.60" font-size="27.30" font-weight="bold" textLength="26.74" lengthAdjust="spacingAndGlyphs">b)</text>
</g>
<rect x="10.10" y="294.10" width="50.40" height="14.40" rx="7.20" fill="#1414ff"/>
<rect x="150.70" y="322.20" width="50.60" height="14.40" rx="7.20" fill="#55fc7d"/>
<rect x="10.10" y="351.60" width="50.40" height="14.40" rx="7.20" fill="#ff1e10"/>
<rect x="328.60" y="300.20" width="50.80" height="14.20" rx="7.10" fill="#ff28f5"/>
<rect x="328.60" y="356.90" width="50.80" height="14.20" rx="7.10" fill="#c0c0c0"/>
<g class="lg">
<text x="65.75" y="306.30" font-size="18.00" font-weight="bold" textLength="17.80" lengthAdjust="spacingAndGlyphs">Ni</text>
<text x="83.32" y="310.60" font-size="12.20" font-weight="bold" textLength="13.41" lengthAdjust="spacingAndGlyphs">50</text>
<text x="96.68" y="306.30" font-size="18.00" font-weight="bold" textLength="21.13" lengthAdjust="spacingAndGlyphs">Pd</text>
<text x="116.67" y="310.60" font-size="12.20" font-weight="bold" textLength="13.17" lengthAdjust="spacingAndGlyphs">50</text>
</g>
<g class="lg">
<text x="213.67" y="336.30" font-size="18.00" font-weight="bold" textLength="16.49" lengthAdjust="spacingAndGlyphs">Cr</text>
<text x="230.44" y="340.60" font-size="12.20" font-weight="bold" textLength="13.02" lengthAdjust="spacingAndGlyphs">33</text>
<text x="242.97" y="336.30" font-size="18.00" font-weight="bold" textLength="20.36" lengthAdjust="spacingAndGlyphs">Co</text>
<text x="263.33" y="340.60" font-size="12.20" font-weight="bold" textLength="13.69" lengthAdjust="spacingAndGlyphs">33</text>
<text x="276.95" y="336.30" font-size="18.00" font-weight="bold" textLength="17.80" lengthAdjust="spacingAndGlyphs">Ni</text>
<text x="294.64" y="340.60" font-size="12.20" font-weight="bold" textLength="12.63" lengthAdjust="spacingAndGlyphs">33</text>
</g>
<g class="lg">
<text x="63.65" y="364.60" font-size="18.00" font-weight="bold" textLength="17.91" lengthAdjust="spacingAndGlyphs">Ni</text>
<text x="81.33" y="368.90" font-size="12.20" font-weight="bold" textLength="23.59" lengthAdjust="spacingAndGlyphs">63.2</text>
<text x="104.84" y="364.60" font-size="18.00" font-weight="bold" textLength="11.83" lengthAdjust="spacingAndGlyphs">V</text>
<text x="116.54" y="368.90" font-size="12.20" font-weight="bold" textLength="22.12" lengthAdjust="spacingAndGlyphs">36.8</text>
</g>
<g class="lg">
<text x="384.57" y="312.90" font-size="18.00" font-weight="bold" textLength="16.09" lengthAdjust="spacingAndGlyphs">Cr</text>
<text x="400.73" y="317.20" font-size="12.20" font-weight="bold" textLength="13.50" lengthAdjust="spacingAndGlyphs">30</text>
<text x="413.77" y="312.90" font-size="18.00" font-weight="bold" textLength="20.25" lengthAdjust="spacingAndGlyphs">Co</text>
<text x="433.93" y="317.20" font-size="12.20" font-weight="bold" textLength="13.60" lengthAdjust="spacingAndGlyphs">30</text>
<text x="447.94" y="312.90" font-size="18.00" font-weight="bold" textLength="17.12" lengthAdjust="spacingAndGlyphs">Ni</text>
<text x="465.13" y="317.20" font-size="12.20" font-weight="bold" textLength="13.50" lengthAdjust="spacingAndGlyphs">30</text>
<text x="481.67" y="312.90" font-size="18.00" font-weight="bold" textLength="20.03" lengthAdjust="spacingAndGlyphs">Pd</text>
<text x="502.03" y="317.20" font-size="12.20" font-weight="bold" textLength="13.40" lengthAdjust="spacingAndGlyphs">10</text>
</g>
<g class="lg">
<text x="384.57" y="369.00" font-size="18.00" font-weight="bold" textLength="16.09" lengthAdjust="spacingAndGlyphs">Cr</text>
<text x="400.73" y="373.30" font-size="12.20" font-weight="bold" textLength="13.50" lengthAdjust="spacingAndGlyphs">30</text>
<text x="413.77" y="369.00" font-size="18.00" font-weight="bold" textLength="20.25" lengthAdjust="spacingAndGlyphs">Co</text>
<text x="433.93" y="373.30" font-size="12.20" font-weight="bold" textLength="13.60" lengthAdjust="spacingAndGlyphs">30</text>
<text x="447.94" y="369.00" font-size="18.00" font-weight="bold" textLength="17.12" lengthAdjust="spacingAndGlyphs">Ni</text>
<text x="465.13" y="373.30" font-size="12.20" font-weight="bold" textLength="13.50" lengthAdjust="spacingAndGlyphs">30</text>
<text x="481.94" y="369.00" font-size="18.00" font-weight="bold" textLength="10.73" lengthAdjust="spacingAndGlyphs">V</text>
<text x="492.83" y="373.30" font-size="12.20" font-weight="bold" textLength="13.40" lengthAdjust="spacingAndGlyphs">10</text>
</g>
</svg>
</body></html>
